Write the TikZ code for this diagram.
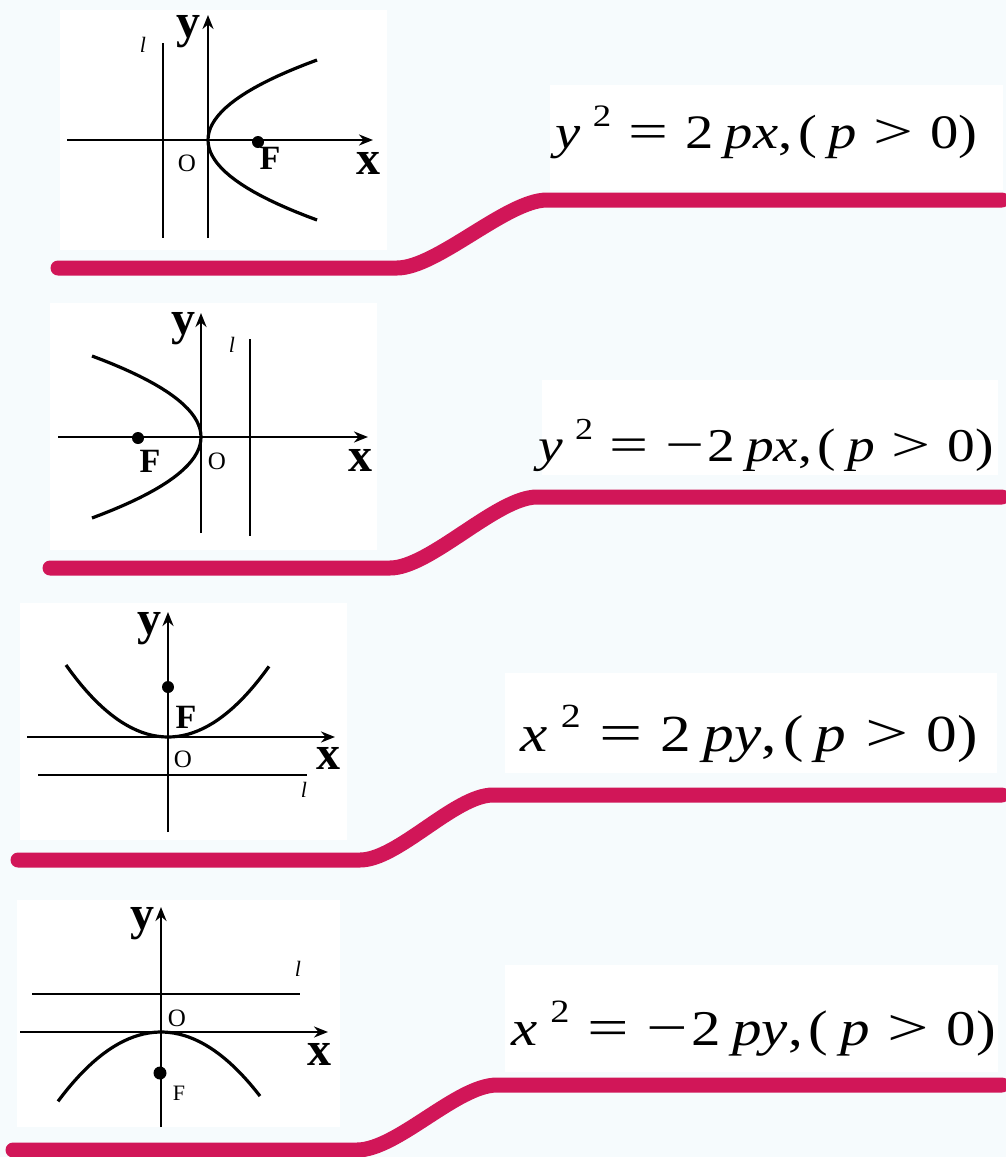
\documentclass[tikz,border=0pt]{standalone}
\usepackage{fontspec}
\setmainfont{Liberation Serif}
\usetikzlibrary{arrows.meta}
\definecolor{bandred}{RGB}{209,22,88}
\definecolor{paper}{RGB}{246,251,253}
\newcommand{\sqr}{\hspace{0.22em}\raisebox{0.45em}{\scalebox{0.65}{2}}}
\newcommand{\rel}{\hspace{0.3em}}
\newcommand{\bigop}[1]{\scalebox{1.25}[1.05]{#1}}
\newcommand{\wide}[1]{\scalebox{1.18}[1]{#1}}

\begin{document}
\begin{tikzpicture}[
    x=1pt, y=-1pt,
    >={Stealth[length=14pt,width=11pt]},
    axis/.style={line width=2.6pt, ->},
    guide/.style={line width=2.6pt},
    curve/.style={line width=3.2pt},
    band/.style={line width=15pt, bandred, line cap=round},
    card/.style={fill=white, draw=none},
    axlbl/.style={font=\fontsize{48}{48}\selectfont\bfseries, inner sep=0pt},
    olbl/.style={font=\fontsize{25}{25}\selectfont, inner sep=0pt},
    flbl/.style={font=\fontsize{34}{34}\selectfont\bfseries, inner sep=0pt},
    llbl/.style={font=\fontsize{22}{22}\selectfont\itshape, inner sep=0pt},
    formula/.style={anchor=base east, inner sep=0pt}
]
\fill[paper] (0,0) rectangle (1006,1157);
\useasboundingbox (0,0) rectangle (1006,1157);

% white cards
\fill[card] (60,10) rectangle (387,250);
\fill[card] (50,303) rectangle (377,550);
\fill[card] (20,603) rectangle (347,840);
\fill[card] (17,900) rectangle (340,1127);
\fill[card] (550,85) rectangle (1003,190);
\fill[card] (542,380) rectangle (998,475);
\fill[card] (505,673) rectangle (997,773);
\fill[card] (505,965) rectangle (998,1072);

% y^2 = 2px
\draw[axis] (67,140) -- (373,140);
\draw[axis] (208,238) -- (208,15);
\draw[guide] (163,43) -- (163,238);
\draw[curve] plot[domain=-80:80, samples=41, variable=\t] ({208+\t*\t/58.7},{140+\t});
\fill (258,142) circle (6);
\node[axlbl] (y1) at (188,32) {y};
\node[axlbl] (x1) at (368,163) {x};
\node[llbl] (l1) at (143,45) {l};
\node[olbl] (o1) at (187,163) {O};
\node[flbl] (f1) at (270,158) {F};
\node[formula, font=\fontsize{48}{48}\selectfont] (eq1) at (978,148)
  {\wide{\textit{y}\sqr\rel\bigop{=}\rel 2\hspace{0.2em}\textit{px},\hspace{0.1em}(\hspace{0.2em}\textit{p}\rel\bigop{>}\rel 0)}};
\draw[band] (58,268) -- (397,268) .. controls (437,268) and (507,200) .. (547,200) -- (1002,200);

% y^2 = -2px
\draw[axis] (58,437) -- (368,437);
\draw[axis] (201,533) -- (201,313);
\draw[guide] (250,339) -- (250,536);
\draw[curve] plot[domain=-81:81, samples=41, variable=\t] ({201-\t*\t/60.2},{437+\t});
\fill (138,438) circle (6);
\node[axlbl] (y2) at (183,329) {y};
\node[axlbl] (x2) at (360,460) {x};
\node[llbl] (l2) at (232,345) {l};
\node[olbl] (o2) at (217,461) {O};
\node[flbl] (f2) at (150,461) {F};
\node[formula, font=\fontsize{47}{47}\selectfont] (eq2) at (994,461)
  {\wide{\textit{y}\sqr\rel\bigop{=}\rel\bigop{−}\hspace{0.05em}2\hspace{0.2em}\textit{px},\hspace{0.1em}(\hspace{0.2em}\textit{p}\rel\bigop{>}\rel 0)}};
\draw[band] (50,568) -- (390,568) .. controls (430,568) and (497,497) .. (537,497) -- (1002,497);

% x^2 = 2py
\draw[axis] (27,737) -- (335,737);
\draw[axis] (168,832) -- (168,612);
\draw[guide] (38,775) -- (307,775);
\draw[curve] plot[domain=-102:101, samples=41, variable=\t] ({168+\t},{737-\t*\t/144.5});
\fill (168,687) circle (6);
\node[axlbl] (y3) at (149,629) {y};
\node[axlbl] (x3) at (328,758) {x};
\node[llbl] (l3) at (304,790) {l};
\node[olbl] (o3) at (183,759) {O};
\node[flbl] (f3) at (186,717) {F};
\node[formula, font=\fontsize{52}{52}\selectfont] (eq3) at (978,751)
  {\wide{\textit{x}\sqr\rel\bigop{=}\rel 2\hspace{0.2em}\textit{py},\hspace{0.1em}(\hspace{0.2em}\textit{p}\rel\bigop{>}\rel 0)}};
\draw[band] (18,860) -- (360,860) .. controls (398,860) and (455,795) .. (493,795) -- (1002,795);

% x^2 = -2py
\draw[axis] (20,1032) -- (328,1032);
\draw[axis] (161,1127) -- (161,907);
\draw[guide] (32,994) -- (300,994);
\draw[curve] plot[domain=-103:99, samples=41, variable=\t] ({161+\t},{1032+\t*\t/153});
\fill (160,1073) circle (6.5);
\node[axlbl] (y4) at (142,924) {y};
\node[axlbl] (x4) at (319,1054) {x};
\node[llbl] (l4) at (298,969) {l};
\node[olbl] (o4) at (177,1018) {O};
\node[olbl, font=\fontsize{22}{22}\selectfont] (f4) at (179,1093) {F};
\node[formula, font=\fontsize{50}{50}\selectfont] (eq4) at (996,1045)
  {\wide{\textit{x}\sqr\rel\bigop{=}\rel\bigop{−}\hspace{0.05em}2\hspace{0.2em}\textit{py},\hspace{0.1em}(\hspace{0.2em}\textit{p}\rel\bigop{>}\rel 0)}};
\draw[band] (13,1150) -- (357,1150) .. controls (397,1150) and (457,1085) .. (497,1085) -- (1002,1085);
\end{tikzpicture}
\end{document}
